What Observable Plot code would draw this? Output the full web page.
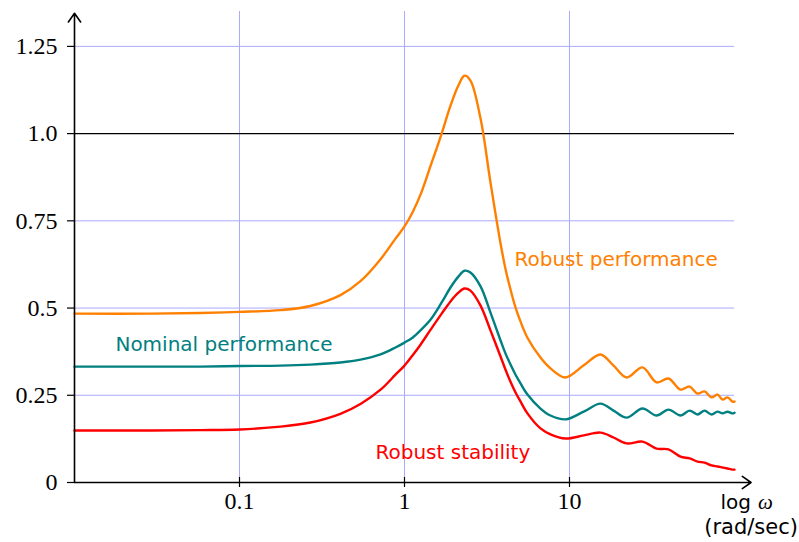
<!DOCTYPE html>
<html>
<head>
<meta charset="utf-8">
<script src="https://cdn.jsdelivr.net/npm/d3@7"></script>
<script src="https://cdn.jsdelivr.net/npm/@observablehq/plot@0.6"></script>
<style>
  html, body { margin: 0; padding: 0; background: #fff; }
</style>
</head>
<body>
<div id="chart"></div>
<script>
const omega = [0.01, 0.0289, 0.058, 0.1, 0.177, 0.269, 0.409, 0.541, 0.716, 0.882, 1, 1.118, 1.25, 1.44, 1.68, 1.90, 2.12, 2.31, 2.51, 2.89, 3.32, 3.82, 4.09, 4.39, 4.71, 5.05, 5.56, 6.67, 7.67, 9.46, 12.2, 15.4, 18.5, 22.2, 27.7, 33.7, 39.8, 47.1, 53.4, 59.7, 65.8, 72.6, 78.9, 84.6, 90.7, 97.2, 100];
const robustPerformance = [0.484, 0.484, 0.486, 0.489, 0.494, 0.506, 0.537, 0.577, 0.640, 0.699, 0.734, 0.774, 0.825, 0.908, 1.0, 1.08, 1.138, 1.166, 1.152, 1.043, 0.86, 0.685, 0.613, 0.553, 0.501, 0.461, 0.415, 0.358, 0.327, 0.301, 0.336, 0.367, 0.335, 0.301, 0.33, 0.287, 0.298, 0.266, 0.275, 0.255, 0.261, 0.244, 0.252, 0.238, 0.244, 0.232, 0.232];
const nominalPerformance = [0.332, 0.332, 0.332, 0.334, 0.335, 0.338, 0.344, 0.352, 0.367, 0.387, 0.401, 0.415, 0.436, 0.467, 0.516, 0.559, 0.590, 0.607, 0.602, 0.562, 0.487, 0.407, 0.370, 0.338, 0.309, 0.284, 0.252, 0.212, 0.192, 0.181, 0.203, 0.226, 0.206, 0.186, 0.212, 0.192, 0.209, 0.192, 0.206, 0.195, 0.206, 0.195, 0.203, 0.198, 0.203, 0.198, 0.2];
const robustStability = [0.149, 0.149, 0.150, 0.152, 0.160, 0.172, 0.197, 0.225, 0.266, 0.309, 0.335, 0.364, 0.395, 0.438, 0.484, 0.519, 0.544, 0.556, 0.550, 0.507, 0.436, 0.361, 0.324, 0.289, 0.258, 0.232, 0.198, 0.155, 0.138, 0.126, 0.135, 0.143, 0.129, 0.112, 0.117, 0.097, 0.095, 0.074, 0.069, 0.060, 0.057, 0.049, 0.046, 0.043, 0.040, 0.037, 0.037];

const seriesNames = ["Robust performance", "Nominal performance", "Robust stability"];
const seriesColors = ["#ff8000", "#008080", "#ff0000"];
const labelOmega = [4.64, 0.0177, 0.667];
const labelValue = [0.639, 0.395, 0.086];

const xTicks = [0.1, 1, 10];
const xTickLabels = ["0.1", "1", "10"];
const yTicks = [0, 0.25, 0.5, 0.75, 1.0, 1.25];
const yTickLabels = ["0", "0.25", "0.5", "0.75", "1.0", "1.25"];
const yGrid = [0.25, 0.5, 0.75, 1.25];
const unityLine = [1.0];

const xDomain = [0.01, 100];
const yDomain = [0, 1.35];
const xArrowEnd = 126;
const yArrowEnd = 1.345;

const allSeries = [robustPerformance, nominalPerformance, robustStability];
const rows = allSeries.flatMap((vals, s) => omega.map((w, i) => ({w, v: vals[i], s: seriesNames[s]})));
const labels = seriesNames.map((name, i) => ({name, w: labelOmega[i], v: labelValue[i], c: seriesColors[i]}));

const serif = "'Liberation Serif', 'DejaVu Serif', serif";
const sans = "'DejaVu Sans', sans-serif";

const chart = Plot.plot({
  width: 799,
  height: 542,
  marginLeft: 74,
  marginRight: 65,
  marginTop: 11,
  marginBottom: 60,
  x: {type: "log", domain: xDomain},
  y: {domain: yDomain},
  color: {domain: seriesNames, range: seriesColors},
  marks: [
    Plot.ruleX(xTicks, {y1: yDomain[0], y2: yDomain[1], stroke: "#aaaaff", strokeWidth: 1}),
    Plot.ruleY(yGrid, {x1: xDomain[0], x2: xDomain[1], stroke: "#aaaaff", strokeWidth: 1}),
    Plot.ruleY(unityLine, {x1: xDomain[0], x2: xDomain[1], stroke: "#000", strokeWidth: 1.2}),
    Plot.line(rows, {x: "w", y: "v", z: "s", stroke: "s", strokeWidth: 2.4, curve: "catmull-rom"}),
    Plot.arrow([0], {x1: xDomain[0], y1: 0, x2: xDomain[0], y2: yArrowEnd, stroke: "#000", strokeWidth: 1.6, headLength: 10, headAngle: 70}),
    Plot.arrow([0], {x1: xDomain[0], y1: 0, x2: xArrowEnd, y2: 0, stroke: "#000", strokeWidth: 1.6, headLength: 10, headAngle: 70}),
    Plot.ruleX(xTicks, {y1: 0, y2: 0, insetTop: -5, insetBottom: -5, stroke: "#000", strokeWidth: 1.2}),
    Plot.axisY(yTicks, {x: xDomain[0], tickSize: 7, tickPadding: 10, tickFormat: (d) => yTickLabels[yTicks.indexOf(d)], fontSize: 24, fontFamily: serif, fill: "#000", stroke: "#000", strokeWidth: 1.2, label: null}),
    Plot.axisX(xTicks, {tickSize: 0, tickPadding: 9, tickFormat: (d) => xTickLabels[xTicks.indexOf(d)], fontSize: 24, fontFamily: serif, fill: "#000", label: null}),
    Plot.text(labels, {x: "w", y: "v", text: "name", fill: "c", textAnchor: "start", lineAnchor: "middle", fontSize: 20, fontFamily: sans}),
    Plot.text(["log"], {x: xArrowEnd, y: -0.057, text: d => d, textAnchor: "end", dx: 0, lineAnchor: "middle", fontSize: 20, fontFamily: sans, fill: "#000"}),
    Plot.text(["ω"], {x: xArrowEnd, y: -0.057, text: d => d, textAnchor: "start", dx: 7, lineAnchor: "middle", fontSize: 21, fontFamily: serif, fontStyle: "italic", fill: "#000"}),
    Plot.text(["(rad/sec)"], {x: xArrowEnd, y: -0.129, text: d => d, textAnchor: "middle", lineAnchor: "middle", fontSize: 21, fontFamily: sans, fill: "#000"})
  ]
});
document.getElementById("chart").appendChild(chart);
</script>
</body>
</html>
